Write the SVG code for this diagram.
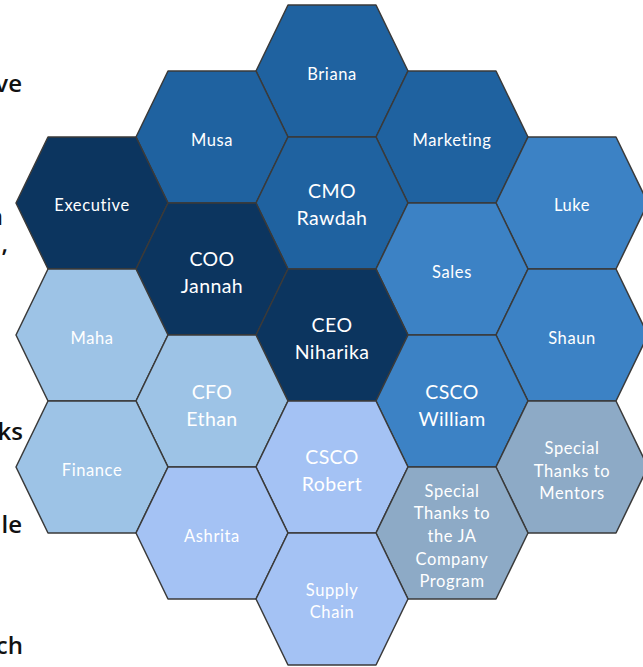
<svg xmlns="http://www.w3.org/2000/svg" xmlns:xlink="http://www.w3.org/1999/xlink" width="643" height="667" viewBox="0 0 643 667">
<style>
.hx{stroke:#3a3a3a;stroke-width:1.5;stroke-linejoin:round}
.navy{fill:#0C355F}
.mid{fill:#1F62A0}
.bright{fill:#3C82C5}
.light{fill:#9DC3E6}
.peri{fill:#A4C2F4}
.grey{fill:#8DAAC6}
.s{font-family:Lato,"Open Sans","Liberation Sans",sans-serif;font-size:16.5px;fill:#fff;text-anchor:middle;letter-spacing:0.6px}
.d{font-family:Lato,"Open Sans","Liberation Sans",sans-serif;font-size:19.5px;fill:#fff;text-anchor:middle;letter-spacing:0.4px}
.side{font-family:"Open Sans","Liberation Sans",sans-serif;font-size:24px;font-weight:600;fill:#111;text-anchor:end}
</style>
<defs>
<polygon id="hex" points="-44,-66 44,-66 76,0 44,66 -44,66 -76,0"/>
</defs>
<rect width="643" height="667" fill="#fff"/>
<g id="side-text">
<text class="side" x="22" y="92">ve</text>
<text class="side" x="3" y="225">n</text>
<text class="side" x="8" y="252">,</text>
<text class="side" x="23" y="440">ks</text>
<text class="side" x="22" y="533">le</text>
<text class="side" x="23" y="654">ch</text>
</g>
<g id="briana" transform="translate(332,71)"><use xlink:href="#hex" class="hx mid"/><text class="s" y="9">Briana</text></g>
<g id="musa" transform="translate(212,137)"><use xlink:href="#hex" class="hx mid"/><text class="s" y="9">Musa</text></g>
<g id="marketing" transform="translate(452,137)"><use xlink:href="#hex" class="hx mid"/><text class="s" y="9">Marketing</text></g>
<g id="executive" transform="translate(92,203)"><use xlink:href="#hex" class="hx navy"/><text class="s" y="8">Executive</text></g>
<g id="cmo" transform="translate(332,203)"><use xlink:href="#hex" class="hx mid"/><text class="d" y="-5">CMO</text><text class="d" y="22">Rawdah</text></g>
<g id="luke" transform="translate(572,203)"><use xlink:href="#hex" class="hx bright"/><text class="s" y="8">Luke</text></g>
<g id="coo" transform="translate(212,269)"><use xlink:href="#hex" class="hx navy"/><text class="d" y="-3">COO</text><text class="d" y="24">Jannah</text></g>
<g id="sales" transform="translate(452,269)"><use xlink:href="#hex" class="hx bright"/><text class="s" y="9">Sales</text></g>
<g id="maha" transform="translate(92,335)"><use xlink:href="#hex" class="hx light"/><text class="s" y="9">Maha</text></g>
<g id="ceo" transform="translate(332,335)"><use xlink:href="#hex" class="hx navy"/><text class="d" y="-3">CEO</text><text class="d" y="24">Niharika</text></g>
<g id="shaun" transform="translate(572,335)"><use xlink:href="#hex" class="hx bright"/><text class="s" y="9">Shaun</text></g>
<g id="cfo" transform="translate(212,401)"><use xlink:href="#hex" class="hx light"/><text class="d" y="-2">CFO</text><text class="d" y="25">Ethan</text></g>
<g id="csco-william" transform="translate(452,401)"><use xlink:href="#hex" class="hx bright"/><text class="d" y="-2">CSCO</text><text class="d" y="25">William</text></g>
<g id="finance" transform="translate(92,467)"><use xlink:href="#hex" class="hx light"/><text class="s" y="9">Finance</text></g>
<g id="csco-robert" transform="translate(332,467)"><use xlink:href="#hex" class="hx peri"/><text class="d" y="-3">CSCO</text><text class="d" y="24">Robert</text></g>
<g id="mentors" transform="translate(572,467)"><use xlink:href="#hex" class="hx grey"/><text class="s" y="-13">Special</text><text class="s" y="9.5">Thanks to</text><text class="s" y="32">Mentors</text></g>
<g id="ashrita" transform="translate(212,533)"><use xlink:href="#hex" class="hx peri"/><text class="s" y="9">Ashrita</text></g>
<g id="ja-program" transform="translate(452,533)"><use xlink:href="#hex" class="hx grey"/><text class="s" y="-36.3">Special</text><text class="s" y="-13.7">Thanks to</text><text class="s" y="8.9">the JA</text><text class="s" y="31.5">Company</text><text class="s" y="54">Program</text></g>
<g id="supply-chain" transform="translate(332,599)"><use xlink:href="#hex" class="hx peri"/><text class="s" y="-3">Supply</text><text class="s" y="19">Chain</text></g>
</svg>
